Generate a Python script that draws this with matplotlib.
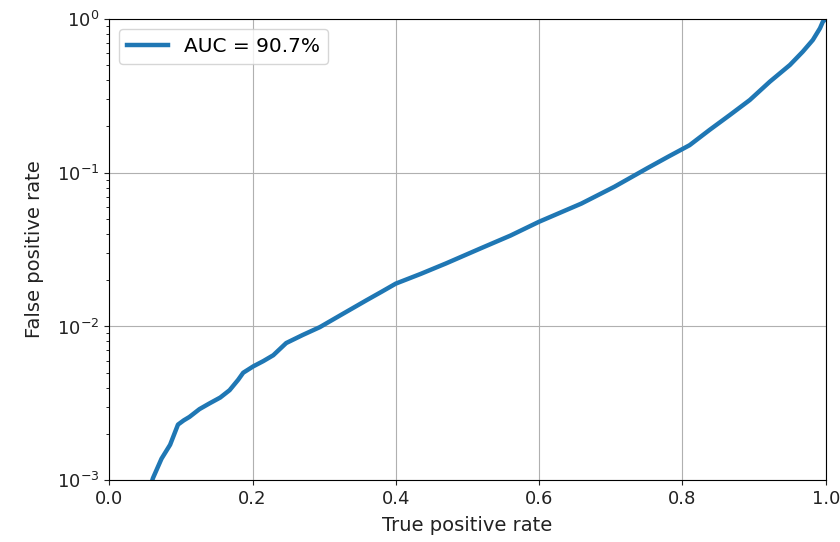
import matplotlib
matplotlib.use("Agg")
import matplotlib.pyplot as plt

# ROC-like curve (log y)
tpr = [0.05, 0.061, 0.073, 0.085, 0.096, 0.104, 0.112, 0.126, 0.140, 0.155, 0.168, 0.180,
       0.187, 0.201, 0.215, 0.229, 0.247, 0.270, 0.294, 0.325, 0.359, 0.380, 0.40, 0.435,
       0.47, 0.519, 0.56, 0.60, 0.659, 0.705, 0.751, 0.78, 0.81, 0.838, 0.866, 0.894,
       0.922, 0.950, 0.968, 0.982, 0.992, 0.996, 1.0]
fpr = [7.0e-4, 1.03e-3, 1.38e-3, 1.70e-3, 2.30e-3, 2.45e-3, 2.58e-3, 2.90e-3, 3.16e-3,
       3.45e-3, 3.85e-3, 4.5e-3, 5.0e-3, 5.5e-3, 5.95e-3, 6.5e-3, 7.8e-3, 8.8e-3, 9.9e-3,
       1.2e-2, 1.48e-2, 1.68e-2, 1.9e-2, 2.2e-2, 2.57e-2, 3.23e-2, 3.9e-2, 4.8e-2, 6.3e-2,
       8.1e-2, 0.107, 0.127, 0.151, 0.19, 0.237, 0.297, 0.391, 0.502, 0.613, 0.73, 0.87,
       0.96, 1.0]
auc_label = "AUC = 90.7%"

fig = plt.figure(figsize=(8.4, 5.42), dpi=100)
ax = fig.add_axes([0.130, 0.114, 0.853, 0.851])
ax.plot(tpr, fpr, color='#1f77b4', lw=3.2, label=auc_label)
ax.set_yscale('log')
ax.set_xlim(0, 1)
ax.set_ylim(1e-3, 1)
ax.grid(True, which='major', color='#b0b0b0', lw=0.8)
ax.tick_params(labelsize=13, colors='#222222')
ax.set_xlabel('True positive rate', fontsize=14, color='#222222', labelpad=6)
ax.set_ylabel('False positive rate', fontsize=14, color='#222222', labelpad=9)
ax.legend(loc='upper left', fontsize=14.5)
fig.savefig('out.png')
